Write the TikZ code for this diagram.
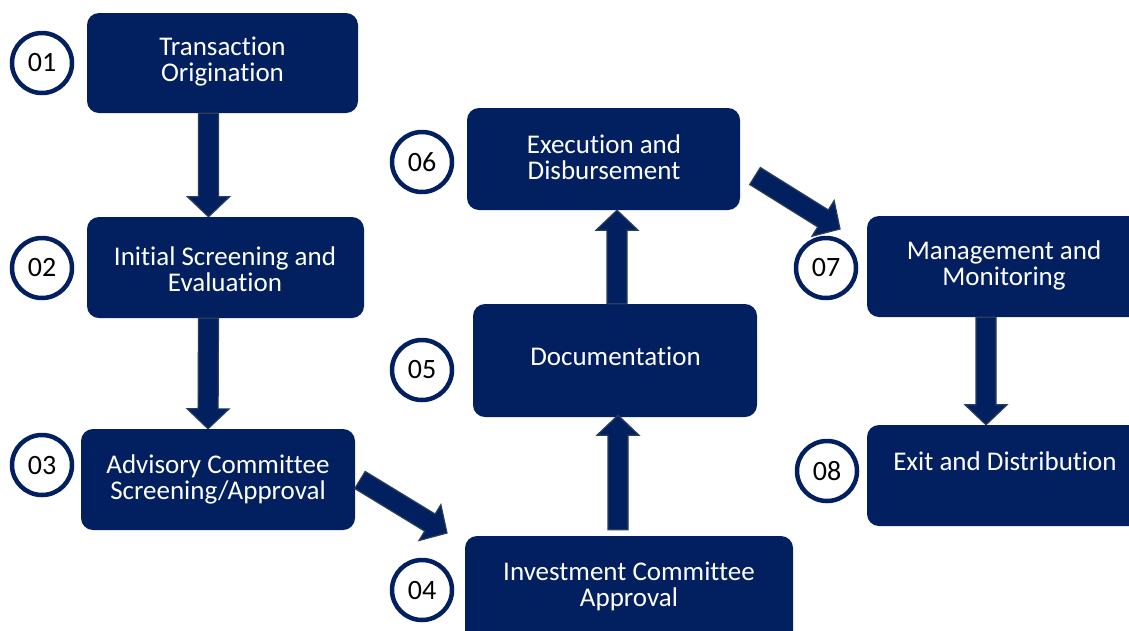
\documentclass[tikz,border=0pt]{standalone}
\usepackage{fontspec}
\setmainfont[Ligatures={NoCommon}]{Carlito}
\usetikzlibrary{calc}
\definecolor{navy}{RGB}{2,32,96}
\definecolor{arrowedge}{RGB}{40,62,90}
\tikzset{
  stepbox/.style={draw=none, fill=navy, rounded corners=12pt, inner sep=0pt},
  steptext/.style={text=white, align=center, font=\fontsize{27}{26}\selectfont, inner sep=0pt},
  numcircle/.style={circle, draw=navy, line width=4.5pt, fill=white, minimum size=60pt, inner sep=0pt,
    font=\fontsize{28}{30}\selectfont, text=black},
  barrow/.style={fill=navy, draw=arrowedge, line width=1.2pt, line join=miter}
}
\newcommand{\blockarrow}[2]{%
  \coordinate (h) at ($(#2)!20pt!(#1)$);
  \path[barrow] ($(#1)!10pt!90:(#2)$) -- ($(h)!10pt!-90:(#1)$) -- ($(h)!21pt!-90:(#1)$) -- (#2)
    -- ($(h)!21pt!90:(#1)$) -- ($(h)!10pt!90:(#1)$) -- ($(#1)!10pt!-90:(#2)$) -- cycle;
}
\begin{document}
\begin{tikzpicture}[x=1pt,y=-1pt]
\useasboundingbox (0,0) rectangle (1129,630);
\clip (0,0) rectangle (1129,630);
\fill[white] (0,0) rectangle (1129,630);
% boxes
\node[stepbox, minimum width=271pt, minimum height=100pt] (b1) at (222.5,63) {};
\node[stepbox, minimum width=277pt, minimum height=101pt] (b2) at (225.5,267.5) {};
\node[stepbox, minimum width=274pt, minimum height=101pt] (b3) at (218,479.5) {};
\node[stepbox, minimum width=328pt, minimum height=110pt] (b4) at (629,591) {};
\node[stepbox, minimum width=284pt, minimum height=113pt] (b5) at (615,360.5) {};
\node[stepbox, minimum width=273pt, minimum height=102pt] (b6) at (603.5,159) {};
\node[stepbox, minimum width=275pt, minimum height=101pt] (b7) at (1004.5,266.5) {};
\node[stepbox, minimum width=275pt, minimum height=101pt] (b8) at (1004.5,475.5) {};
% texts
\node[steptext] (t1) at (222.5,62) {Transaction\\Origination};
\node[steptext] (t2) at (225,269) {Initial Screening and\\Evaluation};
\node[steptext] (t3) at (218,479) {Advisory Committee\\Screening/Approval};
\node[steptext] (t4) at (629,586) {Investment Committee\\Approval};
\node[steptext] (t5) at (615.5,356) {Documentation};
\node[steptext] (t6) at (604,157) {Execution and\\Disbursement};
\node[steptext] (t7) at (1004,265) {Management and\\Monitoring};
\node[steptext] (t8) at (1005,461) {Exit and Distribution};
% number circles
\node[numcircle] (c1) at (42,63) {01};
\node[numcircle] (c2) at (42,268) {02};
\node[numcircle] (c3) at (42,465) {03};
\node[numcircle] (c4) at (422,590) {04};
\node[numcircle] (c5) at (422,370) {05};
\node[numcircle] (c6) at (422,162) {06};
\node[numcircle] (c7) at (826,268) {07};
\node[numcircle] (c8) at (827,471) {08};
% arrow endpoints
\coordinate (a1s) at ($(b1.south)+(-14,0)$);
\coordinate (a1e) at ($(b2.north)+(-17,0)$);
\coordinate (a2s) at ($(b2.south)+(-17,0)$);
\coordinate (a2e) at ($(b3.north)+(-10,0)$);
\coordinate (a3s) at (360,480);
\coordinate (a3e) at (447,533);
\coordinate (a4s) at ($(b4.north)+(-11,-6)$);
\coordinate (a4e) at ($(b5.south)+(3,-2)$);
\coordinate (a5s) at ($(b5.north)+(2,0)$);
\coordinate (a5e) at ($(b6.south)+(13.5,0)$);
\coordinate (a6s) at (755,176);
\coordinate (a6e) at (840,229);
\coordinate (a7s) at ($(b7.south)+(-18.5,0)$);
\coordinate (a7e) at ($(b8.north)+(-18.5,0)$);
% arrows
\blockarrow{a1s}{a1e}
\blockarrow{a2s}{a2e}
\blockarrow{a3s}{a3e}
\blockarrow{a4s}{a4e}
\blockarrow{a5s}{a5e}
\blockarrow{a6s}{a6e}
\blockarrow{a7s}{a7e}
\end{tikzpicture}
\end{document}
